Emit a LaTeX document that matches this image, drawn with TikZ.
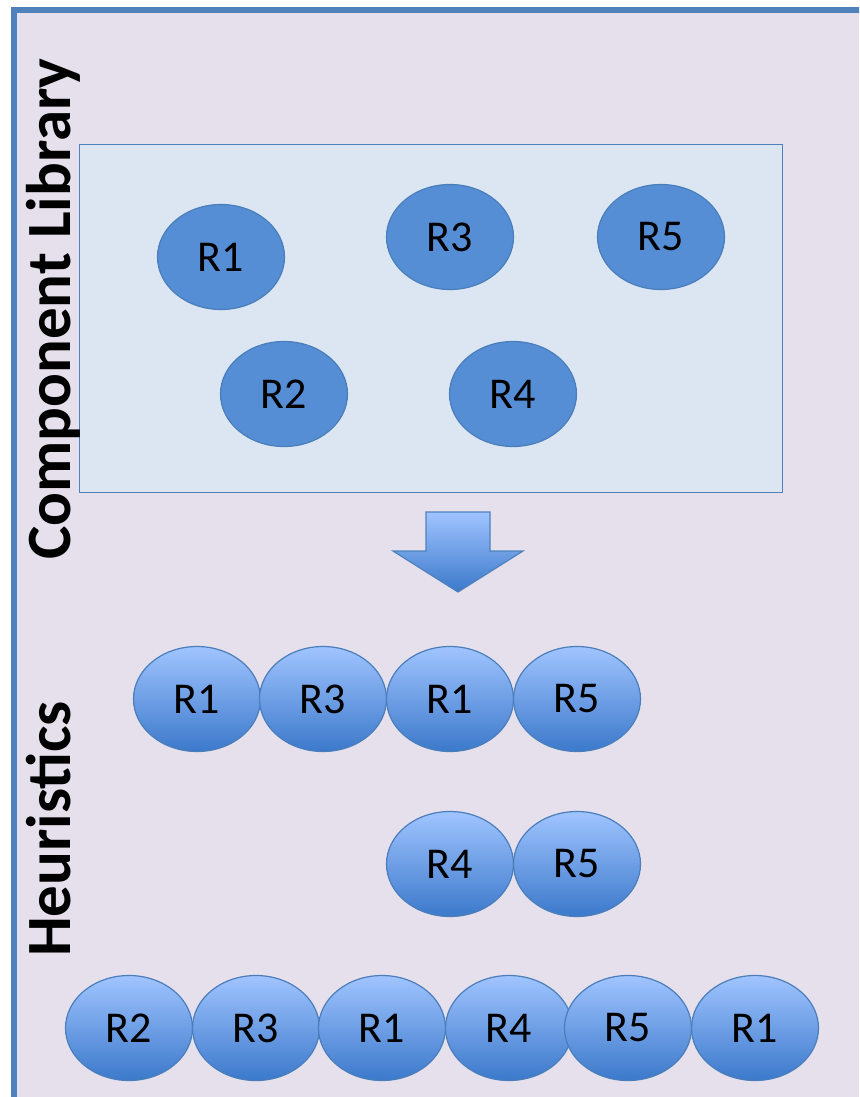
\documentclass[tikz,border=0pt]{standalone}
\usepackage{fontspec}
\setmainfont{Carlito}
\usetikzlibrary{shapes.geometric}

\definecolor{pagebg}{HTML}{E6E0EC}
\definecolor{frameblue}{HTML}{4F81BD}
\definecolor{libfill}{HTML}{DCE6F2}
\definecolor{solidfill}{HTML}{558ED5}
\definecolor{ringline}{HTML}{4A7EBB}
\definecolor{gradtop}{HTML}{A0C4FF}
\definecolor{gradbot}{HTML}{3C79CB}

\tikzset{
  x={(1pt,0)}, y={(0,-1pt)},
  comp/.style={ellipse, minimum width=127pt, minimum height=105pt, inner sep=0pt,
    draw=ringline, line width=1.2pt, font=\fontsize{44}{50}\selectfont},
  libcomp/.style={comp, fill=solidfill},
  seqcomp/.style={comp, top color=gradtop, bottom color=gradbot},
  sidelabel/.style={rotate=90, anchor=base west, inner sep=0pt,
    font=\fontsize{63}{70}\selectfont\bfseries},
}

\begin{document}
\begin{tikzpicture}
  \clip (0,0) rectangle (859,1097);
  \fill[white] (0,0) rectangle (859,1097);
  % outer panel, running past the right and bottom edges
  \draw[fill=pagebg, draw=frameblue, line width=5.5pt] (14,10) rectangle (900,1140);

  % component library box
  \node[draw=frameblue, line width=1.2pt, fill=libfill, minimum width=703pt,
        minimum height=348pt, inner sep=0pt, anchor=north west] (lib) at (79,144) {};

  \node[libcomp] (l1) at (221,257) {R1};
  \node[libcomp] (l3) at (450,237) {R3};
  \node[libcomp] (l5) at (661,237) {R5};
  \node[libcomp] (l2) at (284,394) {R2};
  \node[libcomp] (l4) at (513,394) {R4};

  % side labels
  \node[sidelabel] (tlib) at (70,560) {Component Library};
  \node[sidelabel] (theur) at (70,957) {Heuristics};

  % block arrow
  \draw[draw=frameblue, line width=1.2pt, line join=miter, top color=gradtop, bottom color=gradbot]
    (426,512) -- (490,512) -- (490,551) -- (523,551) -- (458,592)
    -- (393,551) -- (426,551) -- cycle;

  % heuristic sequences
  \node[seqcomp] (a1) at (197,699) {R1};
  \node[seqcomp] (a2) at (323,699) {R3};
  \node[seqcomp] (a3) at (450,699) {R1};
  \node[seqcomp] (a4) at (577,699) {R5};

  \node[seqcomp] (b1) at (450,864) {R4};
  \node[seqcomp] (b2) at (577,864) {R5};

  \node[seqcomp] (c1) at (129,1028) {R2};
  \node[seqcomp] (c2) at (256,1028) {R3};
  \node[seqcomp] (c3) at (382,1028) {R1};
  \node[seqcomp] (c4) at (509,1028) {R4};
  \node[seqcomp] (c5) at (628,1028) {R5};
  \node[seqcomp] (c6) at (755,1028) {R1};
\end{tikzpicture}
\end{document}
